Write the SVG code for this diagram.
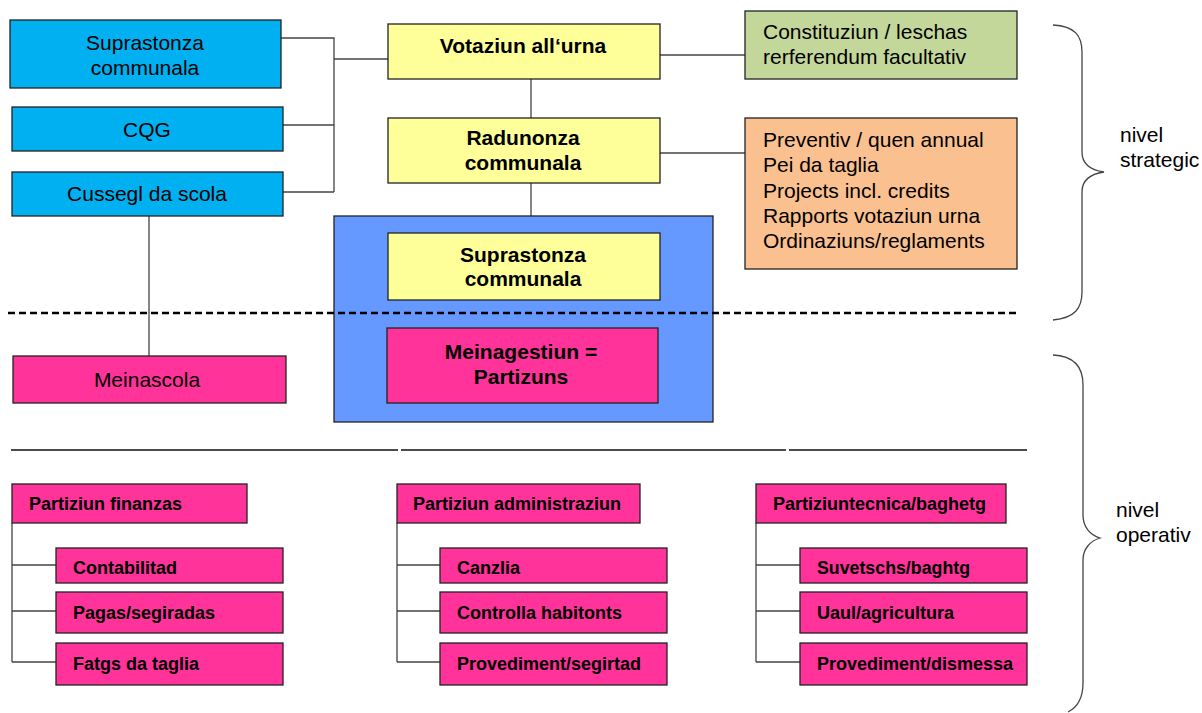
<svg xmlns="http://www.w3.org/2000/svg" width="1202" height="713" viewBox="0 0 1202 713">
<style>
.box{stroke:#222;stroke-width:1.3}
.blue{fill:#00B0F0}.yel{fill:#FFFF99}.grn{fill:#C4D79B}.org{fill:#FAC090}.pink{fill:#FF3399}.big{fill:#6699FF}
.t{font-family:"Liberation Sans",Arial,sans-serif;font-size:21px;fill:#000}
.c{text-anchor:middle}
.b{font-weight:bold;font-size:21px}
.s{font-weight:bold;font-size:18px}
.n{font-family:"Liberation Sans",Arial,sans-serif;font-size:21px;fill:#000}
.ln{stroke:#444;stroke-width:1.3;fill:none}
</style>
<g id="connectors">
<path class="ln" d="M281 38H334V192M283 125H334M283 192H334M334 59H388"/>
<path class="ln" d="M531 79V118M531 183V233M531 300V328"/>
<path class="ln" d="M660 55H745M660 153H745"/>
<path class="ln" d="M149 216V356"/>
<path class="ln" d="M12 523V662M12 565H56M12 611H56M12 662H56"/>
<path class="ln" d="M397 523V662M397 565H440M397 611H440M397 662H440"/>
<path class="ln" d="M756 523V662M756 565H800M756 611H800M756 662H800"/>
</g>
<g id="bigbox"><rect class="box big" x="334" y="216" width="379" height="206"/></g>
<g id="dash"><line x1="8" y1="313" x2="1017" y2="313" stroke="#000" stroke-width="2.5" stroke-dasharray="7,4"/></g>
<g id="sep"><path d="M11 450H398M401 450H786M789 450H1027" stroke="#111" stroke-width="1.4"/></g>
<g id="n-supra1"><rect class="box blue" x="10" y="20" width="271" height="68"/><text class="t c" x="145" y="50">Suprastonza</text><text class="t c" x="145" y="75">communala</text></g>
<g id="n-cqg"><rect class="box blue" x="12" y="107" width="271" height="44"/><text class="t c" x="147" y="137">CQG</text></g>
<g id="n-cussegl"><rect class="box blue" x="12" y="172" width="271" height="44"/><text class="t c" x="147" y="201">Cussegl da scola</text></g>
<g id="n-votaziun"><rect class="box yel" x="388" y="24" width="272" height="55"/><text class="t c b" x="523" y="53">Votaziun all‘urna</text></g>
<g id="n-radunonza"><rect class="box yel" x="388" y="118" width="272" height="65"/><text class="t c b" x="523" y="145">Radunonza</text><text class="t c b" x="523" y="170">communala</text></g>
<g id="n-supra2"><rect class="box yel" x="388" y="233" width="272" height="67"/><text class="t c b" x="523" y="262">Suprastonza</text><text class="t c b" x="523" y="286">communala</text></g>
<g id="n-meinagestiun"><rect class="box pink" x="387" y="328" width="271" height="75"/><text class="t c b" x="521" y="359">Meinagestiun =</text><text class="t c b" x="521" y="384">Partizuns</text></g>
<g id="n-meinascola"><rect class="box pink" x="13" y="356" width="273" height="47"/><text class="t c" x="147" y="387">Meinascola</text></g>
<g id="n-constituziun"><rect class="box grn" x="745" y="11" width="272" height="68"/><text class="t" x="763" y="39">Constituziun / leschas</text><text class="t" x="763" y="64">rerferendum facultativ</text></g>
<g id="n-preventiv"><rect class="box org" x="745" y="118" width="272" height="151"/><text class="t" x="763" y="147">Preventiv / quen annual</text><text class="t" x="763" y="172">Pei da taglia</text><text class="t" x="763" y="198">Projects incl. credits</text><text class="t" x="763" y="223">Rapports  votaziun urna</text><text class="t" x="763" y="248">Ordinaziuns/reglaments</text></g>
<g id="n-finanzas"><rect class="box pink" x="12" y="484" width="235" height="39"/><text class="t s" x="29" y="510">Partiziun finanzas</text></g>
<g id="n-contabilitad"><rect class="box pink" x="56" y="548" width="227" height="35"/><text class="t s" x="73" y="574">Contabilitad</text></g>
<g id="n-pagas"><rect class="box pink" x="56" y="592" width="227" height="41"/><text class="t s" x="73" y="619">Pagas/segiradas</text></g>
<g id="n-fatgs"><rect class="box pink" x="56" y="643" width="227" height="42"/><text class="t s" x="73" y="670">Fatgs da taglia</text></g>
<g id="n-admin"><rect class="box pink" x="397" y="484" width="243" height="39"/><text class="t s" x="413" y="510">Partiziun administraziun</text></g>
<g id="n-canzlia"><rect class="box pink" x="440" y="548" width="227" height="35"/><text class="t s" x="457" y="574">Canzlia</text></g>
<g id="n-controlla"><rect class="box pink" x="440" y="592" width="227" height="41"/><text class="t s" x="457" y="619">Controlla habitonts</text></g>
<g id="n-segirtad"><rect class="box pink" x="440" y="643" width="227" height="42"/><text class="t s" x="457" y="670">Provediment/segirtad</text></g>
<g id="n-tecnica"><rect class="box pink" x="756" y="484" width="250" height="39"/><text class="t s" x="773" y="510">Partiziuntecnica/baghetg</text></g>
<g id="n-suvetschs"><rect class="box pink" x="800" y="548" width="227" height="35"/><text class="t s" x="817" y="574" textLength="153" lengthAdjust="spacingAndGlyphs">Suvetschs/baghtg</text></g>
<g id="n-uaul"><rect class="box pink" x="800" y="592" width="227" height="41"/><text class="t s" x="817" y="619">Uaul/agricultura</text></g>
<g id="n-dismessa"><rect class="box pink" x="800" y="643" width="227" height="42"/><text class="t s" x="817" y="670">Provediment/dismessa</text></g>
<g id="brace-strategic"><path class="ln" d="M1053 25C1075 26 1082 36 1082 52V152C1082 163 1090 170 1104 172C1090 174 1082 181 1082 192V292C1082 308 1075 318 1053 320" stroke="#555"/><text class="n" x="1120" y="142">nivel</text><text class="n" x="1120" y="167">strategic</text></g>
<g id="brace-operativ"><path class="ln" d="M1053 355C1075 356 1083 368 1083 385V515C1083 527 1090 535 1100 538C1090 541 1083 549 1083 560V683C1083 698 1078 707 1068 712" stroke="#555"/><text class="n" x="1116" y="517">nivel</text><text class="n" x="1116" y="542">operativ</text></g>
</svg>
